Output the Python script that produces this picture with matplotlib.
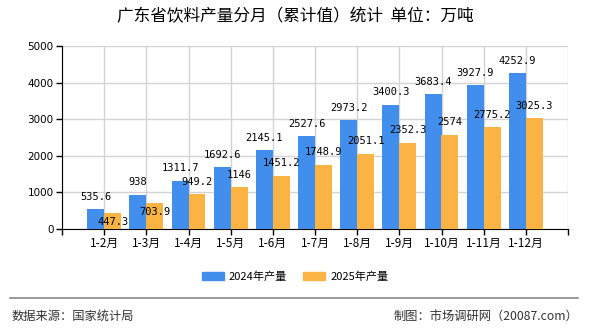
import matplotlib
matplotlib.use("Agg")
import matplotlib.pyplot as plt
from matplotlib.lines import Line2D
from matplotlib.patches import Patch
import numpy as np

plt.rcParams['font.family'] = ['Noto Sans CJK SC', 'DejaVu Sans']

categories = ["1-2月", "1-3月", "1-4月", "1-5月", "1-6月", "1-7月", "1-8月",
              "1-9月", "1-10月", "1-11月", "1-12月"]
values_2024 = [535.6, 938, 1311.7, 1692.6, 2145.1, 2527.6, 2973.2, 3400.3,
               3683.4, 3927.9, 4252.9]
values_2025 = [447.3, 703.9, 949.2, 1146, 1451.2, 1748.9, 2051.1, 2352.3,
               2574, 2775.2, 3025.3]
labels_2024 = ["535.6", "938", "1311.7", "1692.6", "2145.1", "2527.6", "2973.2",
               "3400.3", "3683.4", "3927.9", "4252.9"]
labels_2025 = ["447.3", "703.9", "949.2", "1146", "1451.2", "1748.9", "2051.1",
               "2352.3", "2574", "2775.2", "3025.3"]
yticks = [0, 1000, 2000, 3000, 4000, 5000]
series_names = ["2024年产量", "2025年产量"]

blue = "#428EEC"
orange = "#FBB343"

W, H = 590, 330
fig = plt.figure(figsize=(W / 100, H / 100), dpi=100)
ax = fig.add_axes([62 / W, 1 - 229 / H, (568 - 62) / W, (229 - 46) / H])

x = np.arange(len(categories))
bw = 0.4
ax.bar(x - bw / 2, values_2024, width=bw, color=blue, zorder=3)
ax.bar(x + bw / 2, values_2025, width=bw, color=orange, zorder=3)

ax.set_xlim(-1, 11)
ax.set_ylim(0, 5000)
ax.set_yticks(yticks)
ax.set_yticklabels([str(v) for v in yticks], fontsize=7.5, family='DejaVu Sans')
ax.set_xticks(np.arange(-1, 12))
ax.set_xticklabels([""] + categories + [""], fontsize=8.5)
ax.tick_params(axis='x', length=4, width=1, color='black', pad=2)
ax.tick_params(axis='y', length=4, width=1, color='black', pad=2)
ax.grid(True, color='#D3D3D3', linewidth=1, zorder=0)
for s in ['top', 'right']:
    ax.spines[s].set_visible(False)
ax.spines['left'].set_color('black')
ax.spines['bottom'].set_color('black')

for i in range(len(categories)):
    ax.annotate(labels_2024[i], (x[i] - bw / 2, values_2024[i]), xytext=(0, 9),
                textcoords='offset points', ha='center', va='center',
                fontsize=7.5, family='DejaVu Sans Mono', zorder=5)
    off = -6.5 if i < 2 else 9
    ax.annotate(labels_2025[i], (x[i] + bw / 2, values_2025[i]), xytext=(0, off),
                textcoords='offset points', ha='center', va='center',
                fontsize=7.5, family='DejaVu Sans Mono', zorder=5)

fig.text(0.5, 1 - 17 / H, "广东省饮料产量分月（累计值）统计  单位：万吨",
         ha='center', va='center', fontsize=12)

handles = [Patch(color=blue), Patch(color=orange)]
fig.legend(handles, series_names, loc='center', bbox_to_anchor=(0.5, 1 - 277 / H),
           ncol=2, frameon=False, fontsize=8, handlelength=2.0, handleheight=0.75,
           columnspacing=1.45, handletextpad=0.45)

fig.add_artist(Line2D([10 / W, 578 / W], [1 - 298 / H, 1 - 298 / H],
                      color='#888888', linewidth=1.2))
fig.text(12 / W, 1 - 316 / H, "数据来源：国家统计局", ha='left', va='center',
         fontsize=8.8, color='#333333')
fig.text(578 / W, 1 - 316 / H, "制图：市场调研网（20087.com）", ha='right',
         va='center', fontsize=8.8, color='#333333')

fig.savefig("out.png", dpi=100)
